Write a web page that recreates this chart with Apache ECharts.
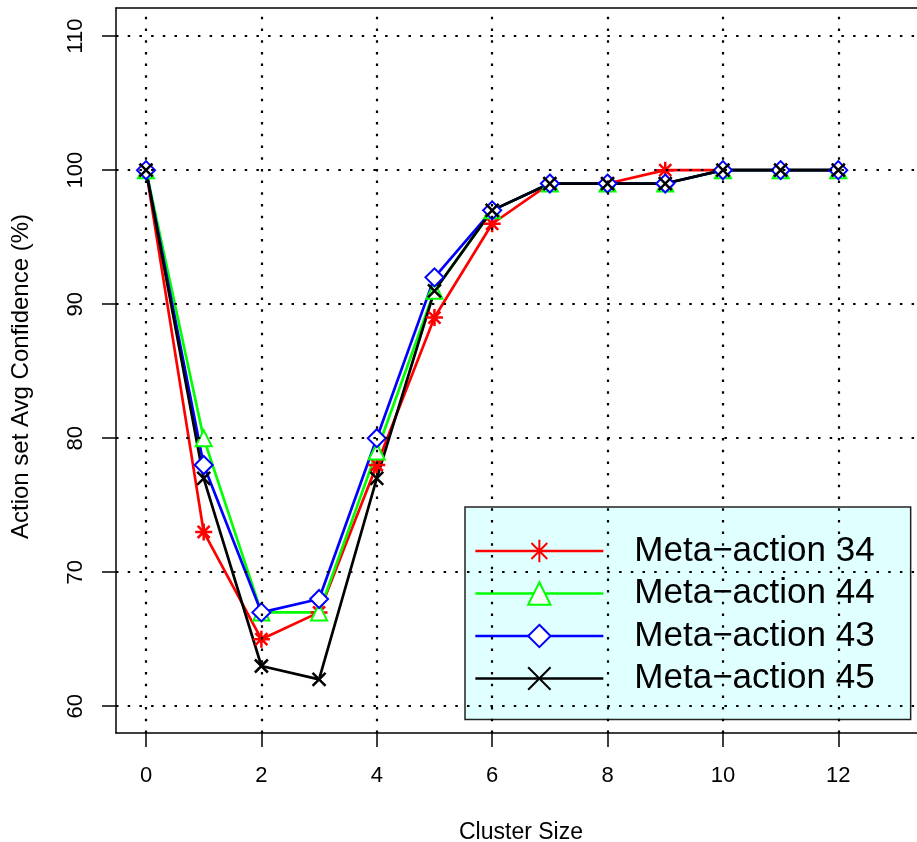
<!DOCTYPE html>
<html>
<head>
<meta charset="utf-8">
<script src="https://cdn.jsdelivr.net/npm/echarts@6/dist/echarts.min.js"></script>
<style>
html,body{margin:0;padding:0;background:#fff;}
#chart{width:917px;height:842px;}
</style>
</head>
<body>
<div id="chart"></div>
<script>
// ---- data ----
const clusterSize = [0,1,2,3,4,5,6,7,8,9,10,11,12];
const ma34 = [100,73,65,67,78,89,96,99,99,100,100,100,100];
const ma44 = [100,80,67,67,79,91,97,99,99,99,100,100,100];
const ma43 = [100,78,67,68,80,92,97,99,99,99,100,100,100];
const ma45 = [100,77,63,62,77,91,97,99,99,99,100,100,100];
const seriesNames = ['Meta\u2212action 34','Meta\u2212action 44','Meta\u2212action 43','Meta\u2212action 45'];
const xTicks = [0,2,4,6,8,10,12];
const yTicks = [60,70,80,90,100,110];

const FONT = '"Liberation Sans", Arial, Helvetica, sans-serif';
const pair = arr => clusterSize.map((x,i)=>[x,arr[i]]);

const ASTER = 'path://M5 0 L5 10 M0 5 L10 5 M1.46 1.46 L8.54 8.54 M8.54 1.46 L1.46 8.54';
const CROSS = 'path://M0 0 L10 10 M10 0 L0 10';

function mk(name, data, color, symbol, size){
  return {
    name, type:'line', data: pair(data), symbol, symbolSize:size,
    xAxisIndex:0, yAxisIndex:0,
    lineStyle:{color, width:2.7},
    itemStyle:{color, borderColor:color, borderWidth:2.5},
    emphasis:{disabled:true}, animation:false, z:3
  };
}

const gridLines = {
  type:'line', data:[], silent:true, animation:false, z:1, xAxisIndex:0, yAxisIndex:0,
  markLine:{
    silent:true, animation:false, symbol:['none','none'], label:{show:false},
    lineStyle:{color:'#000', type:[2.5,9.2], width:2.2, cap:'butt'},
    emphasis:{disabled:true},
    data: xTicks.map(v=>({xAxis:v})).concat(yTicks.map(v=>({yAxis:v})))
  }
};

const boxLine = {show:true, onZero:false, lineStyle:{color:'#000', width:1.5}};

const chart = echarts.init(document.getElementById('chart'), null, {renderer:'canvas'});
chart.setOption({
  backgroundColor:'#fff',
  animation:false,
  grid:{left:116, top:8, right:-9, bottom:109, outerBoundsMode:'none', containLabel:false, show:false},
  xAxis:[{
    type:'value', min:-0.52, max:13.52, position:'bottom',
    name:'Cluster Size', nameLocation:'middle', nameGap:88,
    nameTextStyle:{fontFamily:FONT, fontSize:23, color:'#000'},
    axisLine:boxLine,
    axisTick:{show:true, customValues:xTicks, length:14, lineStyle:{color:'#000', width:1.5}},
    axisLabel:{customValues:xTicks, fontFamily:FONT, fontSize:22, color:'#000', margin:32},
    splitLine:{show:false}
  },{
    type:'value', min:-0.52, max:13.52, position:'top',
    axisLine:boxLine, axisTick:{show:false}, axisLabel:{show:false}, splitLine:{show:false}
  }],
  yAxis:{
    type:'value', min:58, max:112.1, position:'left',
    name:'Action set Avg Confidence (%)', nameLocation:'middle', nameGap:83, nameRotate:90,
    nameTextStyle:{fontFamily:FONT, fontSize:24, color:'#000', padding:[0,12,0,0]},
    axisLine:boxLine,
    axisTick:{show:true, customValues:yTicks, length:14, lineStyle:{color:'#000', width:1.5}},
    axisLabel:{customValues:yTicks, fontFamily:FONT, fontSize:22, color:'#000', margin:29, rotate:90},
    splitLine:{show:false}
  },
  legend:{
    orient:'vertical', left:465, top:507,
    data: seriesNames,
    backgroundColor:'#E0FFFF', borderColor:'#222', borderWidth:1.5,
    padding:[26,36,23,9], itemGap:6.5, itemWidth:128, itemHeight:28,
    lineStyle:{width:2.7},
    textStyle:{fontFamily:FONT, fontSize:35, color:'#000', lineHeight:36, padding:[0,0,0,26]},
    selectedMode:false
  },
  series:[
    gridLines,
    mk(seriesNames[0], ma34, '#FF0000', ASTER, 17),
    mk(seriesNames[1], ma44, '#00FF00', 'emptyTriangle', 16),
    mk(seriesNames[2], ma43, '#0000FF', 'emptyDiamond', 18),
    mk(seriesNames[3], ma45, '#000000', CROSS, 13)
  ]
});
</script>
</body>
</html>
